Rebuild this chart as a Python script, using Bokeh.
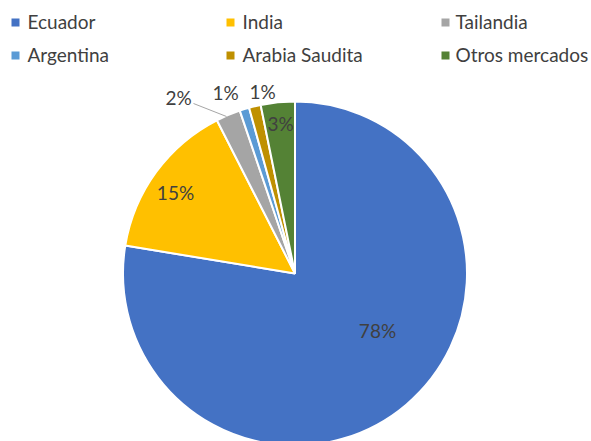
import math
from bokeh.plotting import figure
from bokeh.models import Range1d, ColumnDataSource
from bokeh.core.properties import value
from bokeh.embed import file_html
from bokeh.resources import INLINE

# ---- data ----
categories = ["Ecuador", "India", "Tailandia", "Argentina", "Arabia Saudita", "Otros mercados"]
shares = [77.6, 14.9, 2.3, 0.9, 1.1, 3.2]
colors = ["#4472C4", "#FFC000", "#A5A5A5", "#5B9BD5", "#BF9000", "#548235"]

# ---- layout (pixel coords of image, y measured from top) ----
W, H = 591, 441
CX, CY, R = 294.5, 273, 172
label_pos = [(377, 330), (175, 192), (178, 97), (225, 92), (262, 91), (280, 123)]
legend_square_x = [15, 230, 445]
legend_text_x = [27, 242, 455]
legend_row_y = [21, 54]
FONT = "Lato"
TXT = "#404040"

p = figure(width=W, height=H, x_range=Range1d(0, W), y_range=Range1d(0, H),
           output_backend="svg", toolbar_location=None, min_border=0)
p.axis.visible = False
p.grid.visible = False
p.outline_line_color = None
p.background_fill_color = "white"

def fy(y):
    return H - y

total = sum(shares)
starts, ends = [], []
cum = 0.0
for v in shares:
    a0 = math.pi / 2 - 2 * math.pi * cum / total
    cum += v
    a1 = math.pi / 2 - 2 * math.pi * cum / total
    starts.append(a0)
    ends.append(a1)

src = ColumnDataSource(dict(x=[CX] * len(shares), y=[fy(CY)] * len(shares),
                            start=starts, end=ends, color=colors))
p.wedge(x="x", y="y", radius=R, start_angle="start", end_angle="end",
        direction="clock", fill_color="color", line_color="white", line_width=2,
        source=src)

# leader line for Tailandia label
p.line(x=[193, 226], y=[fy(103), fy(116)], line_color="#A6A6A6", line_width=1)

labels = [f"{round(v / total * 100)}%" for v in shares]
p.text(x=[lp[0] for lp in label_pos], y=[fy(lp[1]) for lp in label_pos], text=labels,
       text_font=value(FONT), text_font_size="19px", text_color=TXT,
       text_align="center", text_baseline="middle")

# legend
lx, ly, lt, lc = [], [], [], []
for i, c in enumerate(categories):
    row, col = divmod(i, 3)
    lx.append(legend_text_x[col])
    ly.append(fy(legend_row_y[row]))
    lt.append(c)
    lc.append(colors[i])
sq_x = [legend_square_x[i % 3] for i in range(len(categories))]
sq_y = [fy(legend_row_y[i // 3] + 1) for i in range(len(categories))]
p.scatter(x=sq_x, y=sq_y, marker="square", size=8, fill_color=lc, line_color=None)
p.text(x=lx, y=ly, text=lt, text_font=value(FONT), text_font_size="19px",
       text_color=TXT, text_align="left", text_baseline="middle")

open("out.html", "w").write(file_html(p, INLINE))
